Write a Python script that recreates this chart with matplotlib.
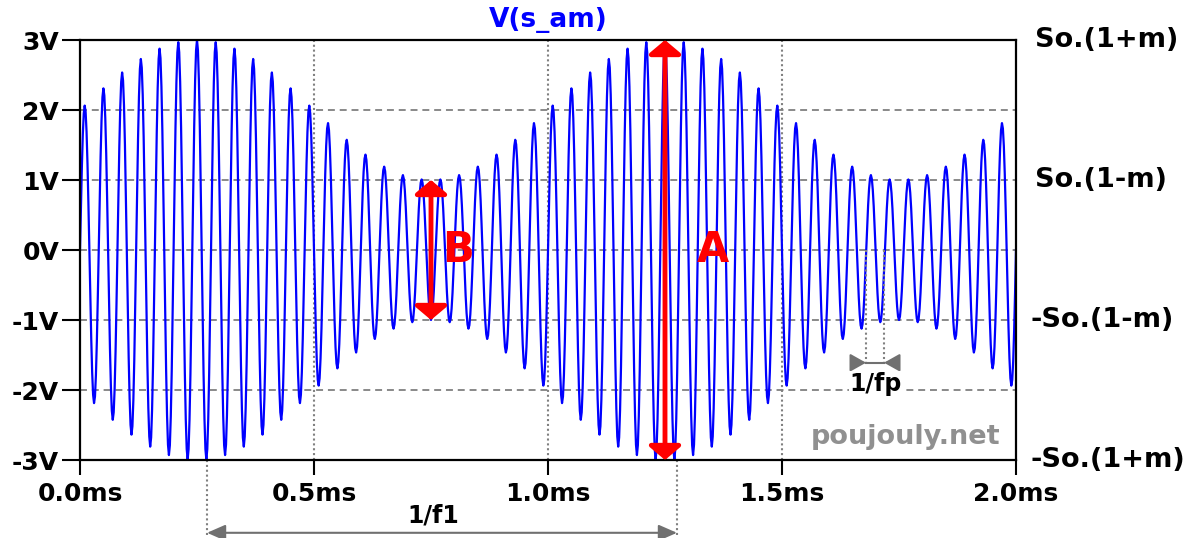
import numpy as np
import matplotlib
matplotlib.use("Agg")
import matplotlib.pyplot as plt

# ---- data ----
So = 2.0          # carrier amplitude (V)
m = 0.5           # modulation index
f1 = 1.0          # modulating frequency (1/ms = kHz)
fp = 25.0         # carrier frequency (1/ms = kHz)
t_end = 2.0       # ms
n_samples = 1001

x_ticks = [0.0, 0.5, 1.0, 1.5, 2.0]
x_labels = ["0.0ms", "0.5ms", "1.0ms", "1.5ms", "2.0ms"]
y_ticks = [3, 2, 1, 0, -1, -2, -3]
y_labels = ["3V", "2V", "1V", "0V", "-1V", "-2V", "-3V"]
right_labels = ["So.(1+m)", "So.(1-m)", "-So.(1-m)", "-So.(1+m)"]
right_levels = [3, 1, -1, -3]

t = np.linspace(0, t_end, n_samples)
s_am = So * (1 + m * np.sin(2 * np.pi * f1 * t)) * np.sin(2 * np.pi * fp * t)

plt.rcParams['lines.scale_dashes'] = False
plt.rcParams['font.family'] = ['DejaVu Sans']

W, H = 1198, 538
fig = plt.figure(figsize=(W / 100, H / 100), dpi=100)
ax = fig.add_axes([80 / W, 1 - 460 / H, 936 / W, 420 / H])
ax.set_xlim(0, 2)
ax.set_ylim(-3, 3)

grey = '#808080'
for yv in [-2, -1, 0, 1, 2]:
    ax.axhline(yv, color=grey, lw=1.3, ls=(0, (5, 3.5)), zorder=1)
for xv in [0.5, 1.0, 1.5]:
    ax.axvline(xv, color=grey, lw=1.5, ls=(0, (1.5, 2.0)), zorder=1)

ax.plot(t, s_am, color='#0000ff', lw=1.6, zorder=2)

for sp in ax.spines.values():
    sp.set_linewidth(1.6)
    sp.set_color('black')

ax.set_xticks(x_ticks)
ax.set_xticklabels(x_labels, fontsize=18, fontweight='bold')
ax.set_yticks(y_ticks)
ax.set_yticklabels(y_labels, fontsize=18, fontweight='bold')
ax.tick_params(axis='x', length=11, width=1.5, pad=5)
ax.tick_params(axis='y', length=13, width=1.5, pad=2)

# title
ax.text(1.0, 3.29, "V(s_am)", color='#0000ff', fontsize=19, fontweight='bold',
        ha='center', va='center', clip_on=False)

# right side labels
for lab, lv in zip(right_labels, right_levels):
    xpos = 2.04 if not lab.startswith('-') else 2.032
    ax.text(xpos, lv, lab, fontsize=19.5, fontweight='bold', ha='left', va='center',
            clip_on=False)

# red arrows A and B
red_style = dict(arrowstyle='<|-|>,head_length=0.32,head_width=0.38', color='red',
                 lw=3.5, mutation_scale=26, shrinkA=0, shrinkB=0)
ax.annotate('', xy=(1.25, 3.0), xytext=(1.25, -3.0), arrowprops=red_style, zorder=4,
            annotation_clip=False)
ax.annotate('', xy=(0.75, 1.0), xytext=(0.75, -1.0), arrowprops=red_style, zorder=4)
ax.text(1.352, -0.0, "A", color='red', fontsize=30, fontweight='bold',
        ha='center', va='center', zorder=5)
ax.text(0.808, -0.0, "B", color='red', fontsize=30, fontweight='bold',
        ha='center', va='center', zorder=5)

# watermark
ax.text(1.763, -2.67, "poujouly.net", color='#909090', fontsize=19.5, fontweight='bold',
        ha='center', va='center', zorder=3)

# 1/fp marker
dgrey = '#707070'
xa, xb = 1.6795, 1.718
ya = -1.61
for xv in (xa, xb):
    ax.plot([xv, xv], [0, ya], color=grey, lw=1.5, ls=(0, (1.5, 2.0)), zorder=3)
ax.plot([xa, xb], [ya, ya], color=dgrey, lw=1.5, zorder=3)
small = dict(arrowstyle='-|>,head_length=0.8,head_width=0.45', color=dgrey, lw=1.5,
             mutation_scale=12, shrinkA=0, shrinkB=0)
ax.annotate('', xy=(xa, ya), xytext=(xa - 0.022, ya), arrowprops=small, zorder=3)
ax.annotate('', xy=(xb, ya), xytext=(xb + 0.022, ya), arrowprops=small, zorder=3)
ax.text(1.7, -1.91, "1/fp", fontsize=17, fontweight='bold', ha='center', va='center',
        zorder=4, bbox=dict(facecolor='white', edgecolor='none', pad=0.5))

# 1/f1 marker (below axes)
x1a, x1b = 0.2714, 1.2756
y1 = -4.04
for xv in (x1a, x1b):
    ax.plot([xv, xv], [-3, -4.1], color=grey, lw=1.5, ls=(0, (1.5, 2.0)), clip_on=False)
ax.annotate('', xy=(x1b, y1), xytext=(x1a, y1),
            arrowprops=dict(arrowstyle='<|-|>,head_length=0.8,head_width=0.35',
                            color=dgrey, lw=1.5, mutation_scale=14, shrinkA=0, shrinkB=0),
            annotation_clip=False)
ax.text(0.755, -3.79, "1/f1", fontsize=17, fontweight='bold', ha='center', va='center',
        clip_on=False)

fig.savefig("out.png", dpi=100)
